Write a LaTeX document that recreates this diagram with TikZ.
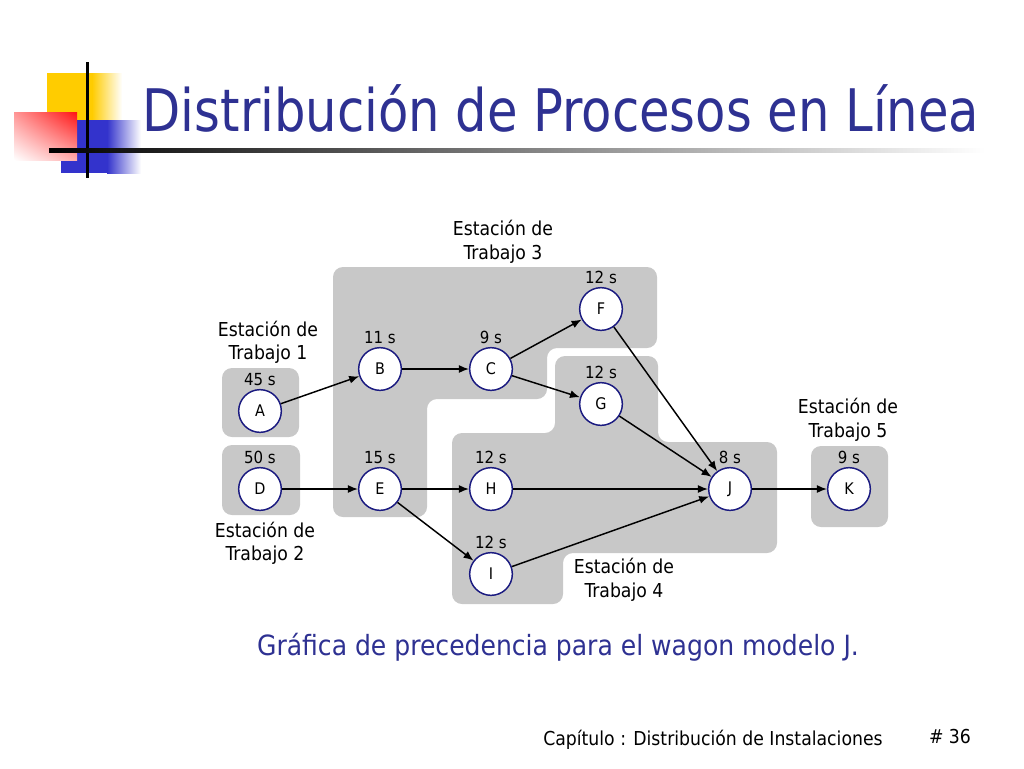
\documentclass[tikz,border=0pt]{standalone}
\usepackage{fontspec}
\setmainfont{DejaVu Sans Condensed}
\usepackage{tikz}
\usetikzlibrary{positioning}
\usetikzlibrary{arrows.meta}
\usetikzlibrary{shadings}
\tikzstyle{line} = [draw, line width=1.1pt, -{Latex[length=7.5pt, width=6pt]}]
\definecolor{gris}{RGB}{200,200,200}
\definecolor{marino}{RGB}{26,26,128}
\definecolor{azultit}{RGB}{46,49,146}
\definecolor{amarillo}{RGB}{255,204,0}
\definecolor{rojo}{RGB}{255,20,20}
\definecolor{azullogo}{RGB}{51,51,204}

\begin{document}
\begin{tikzpicture}[x=0.75pt, y=-0.75pt,
		task/.style = {circle, draw=marino, line width=1.1pt, fill=white,
			minimum size=32pt, inner sep=0pt, font=\fontsize{12}{13}\selectfont},
		tlabel/.style = {inner sep=0pt, font=\fontsize{12.5}{13}\selectfont},
		estlabel/.style = {align=center, inner sep=0pt,
			font=\fontsize{14.4}{17.6}\selectfont},
		station/.style = {fill=gris, rounded corners=7.5pt}]
	
	\useasboundingbox (0,0) rectangle (1024,768);
	\fill[white] (0,0) rectangle (1024,768);
	
	% Logo
	\fill[amarillo] (47,73) rectangle (92,120);
	\shade[left color=amarillo, right color=white] (92,73) rectangle (122,120);
	\fill[azullogo] (61,120) rectangle (107,173);
	\shade[left color=azullogo, right color=white] (107,120) rectangle (141,173);
	\shade[upper left=rojo!45, upper right=rojo, lower left=white, lower right=rojo!35]
		(14,112) rectangle (77,160);
	\draw[line width=2.25pt] (87,62) -- (87,178);
	\shade[left color=black, right color=white] (49,148.5) rectangle (985,152);
	
	% Title
	\node[text=azultit, anchor=base, inner sep=0pt, font=\fontsize{44}{48}\selectfont]
		(titulo) at (561,131) {\scalebox{0.94}[1]{Distribución de Procesos en Línea}};
	
	% Stations
	\fill[station] (222,368) rectangle (299,437);
	\fill[station] (222,445) rectangle (300,515);
	\fill[station] (333,267) -- (657,267) -- (657,348) -- (547,348) -- (547,399)
		-- (427,399) -- (427,517) -- (333,517) -- cycle;
	\fill[station] (555,356) -- (658,356) -- (658,442) -- (777,442) -- (777,553)
		-- (563,553) -- (563,604) -- (452,604) -- (452,433) -- (555,433) -- cycle;
	\fill[station] (811,446) rectangle (888,527);
	
	\node[estlabel] (est1) at (268,342.5) {Estación de\\Trabajo 1};
	\node[estlabel] (est2) at (265,543.5) {Estación de\\Trabajo 2};
	\node[estlabel] (est3) at (503,242) {Estación de\\Trabajo 3};
	\node[estlabel] (est4) at (624,580) {Estación de\\Trabajo 4};
	\node[estlabel] (est5) at (848,420) {Estación de\\Trabajo 5};
	
	% Tasks
	\node[task] (A) at (260,411) {A};
	\node[task] (B) at (380,369) {B};
	\node[task] (C) at (491,369) {C};
	\node[task] (F) at (601,309) {F};
	\node[task] (G) at (601,404) {G};
	\node[task] (D) at (260,489) {D};
	\node[task] (E) at (380,489) {E};
	\node[task] (H) at (491,489) {H};
	\node[task] (I) at (491,574) {I};
	\node[task] (J) at (730,489) {J};
	\node[task] (K) at (849,489) {K};
	
	% Times
	\node[tlabel, above=2pt of A] (tA) {45 s};
	\node[tlabel, above=2pt of B] (tB) {11 s};
	\node[tlabel, above=2pt of C] (tC) {9 s};
	\node[tlabel, above=2pt of F] (tF) {12 s};
	\node[tlabel, above=2pt of G] (tG) {12 s};
	\node[tlabel, above=2pt of D] (tD) {50 s};
	\node[tlabel, above=2pt of E] (tE) {15 s};
	\node[tlabel, above=2pt of H] (tH) {12 s};
	\node[tlabel, above=2pt of I] (tI) {12 s};
	\node[tlabel, above=2pt of J] (tJ) {8 s};
	\node[tlabel, above=2pt of K] (tK) {9 s};
	
	% Precedence
	\path[line] (A) -- (B);
	\path[line] (B) -- (C);
	\path[line] (C) -- (F);
	\path[line] (C) -- (G);
	\path[line] (F) -- (J);
	\path[line] (G) -- (J);
	\path[line] (D) -- (E);
	\path[line] (E) -- (H);
	\path[line] (E) -- (I);
	\path[line] (H) -- (J);
	\path[line] (I) -- (J);
	\path[line] (J) -- (K);
	
	\node[text=azultit, anchor=base, inner sep=0pt, font=\fontsize{20.9}{24}\selectfont]
		(grafica) at (558,655) {Gráfica de precedencia para el wagon modelo J.};
	
	% Footer
	\node[anchor=base, inner sep=0pt, font=\fontsize{14.4}{16}\selectfont]
		(capitulo) at (713,745) {Capítulo : Distribución de Instalaciones};
	\node[anchor=base, inner sep=0pt, font=\fontsize{14.4}{16}\selectfont]
		(pagina) at (950,743) {\# 36};
\end{tikzpicture}
\end{document}
